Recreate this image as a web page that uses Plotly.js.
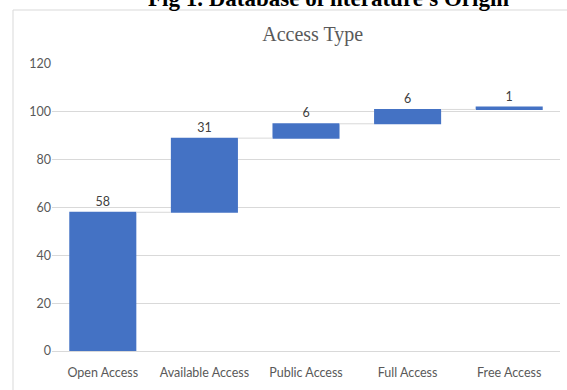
<!DOCTYPE html>
<html>
<head>
<meta charset="utf-8">
<script src="https://cdn.plot.ly/plotly-3.0.1.min.js"></script>
<style>
  html, body { margin: 0; padding: 0; background: #fff; }
  #chart { width: 567px; height: 390px; }
</style>
</head>
<body>
<div id="chart"></div>
<script>
const categories = ["Open Access", "Available Access", "Public Access", "Full Access", "Free Access"];
const values = [58, 31, 6, 6, 1];
const measures = ["relative", "relative", "relative", "relative", "relative"];
const yTicks = [0, 20, 40, 60, 80, 100, 120];

const trace = {
  type: "waterfall",
  x: categories,
  y: values,
  measure: measures,
  text: values.map(String),
  textposition: "outside",
  cliponaxis: false,
  textfont: { family: "Lato, 'Open Sans', sans-serif", size: 12.5, color: "#404040" },
  increasing: { marker: { color: "#4472C4", line: { width: 0 } } },
  decreasing: { marker: { color: "#4472C4", line: { width: 0 } } },
  totals: { marker: { color: "#4472C4", line: { width: 0 } } },
  connector: { mode: "between", line: { color: "#d9d9d9", width: 1 } },
  hoverinfo: "skip",
  showlegend: false
};

const layout = {
  width: 567,
  height: 390,
  margin: { l: 52, r: 7, t: 64, b: 39 },
  paper_bgcolor: "#ffffff",
  plot_bgcolor: "#ffffff",
  waterfallgap: 0.34,
  showlegend: false,
  title: {
    text: "Access Type",
    font: { family: "'Liberation Serif', 'Times New Roman', serif", size: 20, color: "#595959" },
    x: 291 / 567,
    xanchor: "center",
    xref: "paper",
    y: 1 - 34 / 390,
    yanchor: "middle",
    yref: "container"
  },
  xaxis: {
    type: "category",
    showgrid: false,
    zeroline: false,
    showline: false,
    ticks: "",
    ticklabelstandoff: 12,
    tickfont: { family: "Lato, 'Open Sans', sans-serif", size: 12.5, color: "#595959" },
    fixedrange: true
  },
  yaxis: {
    range: [0, 120],
    tickvals: yTicks,
    ticktext: yTicks.map(String),
    showgrid: true,
    gridcolor: "#d9d9d9",
    gridwidth: 1,
    zeroline: true,
    zerolinecolor: "#d9d9d9",
    zerolinewidth: 1,
    showline: false,
    ticks: "",
    tickfont: { family: "Lato, 'Open Sans', sans-serif", size: 12.5, color: "#595959" },
    fixedrange: true
  },
  shapes: [
    {
      type: "rect", xref: "paper", yref: "paper",
      x0: (13 - 52) / 508, x1: 1.1, y0: -0.3, y1: (351 - 10) / 287,
      line: { color: "#d9d9d9", width: 1 }, fillcolor: "rgba(0,0,0,0)", layer: "below"
    }
  ],
  annotations: [
    {
      text: "<b>Fig 1. Database of literature's Origin</b>",
      xref: "paper", yref: "paper",
      x: (328 - 52) / 508, y: 1,
      xanchor: "center", yanchor: "middle",
      yshift: 66,
      showarrow: false,
      font: { family: "'Liberation Serif', 'Times New Roman', serif", size: 23, color: "#000000" }
    }
  ]
};

Plotly.newPlot("chart", [trace], layout, { staticPlot: true, displayModeBar: false });
</script>
</body>
</html>
